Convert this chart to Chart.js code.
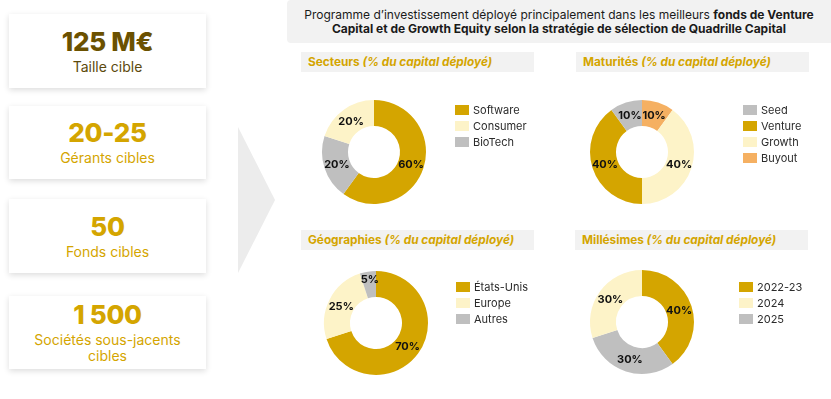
<!DOCTYPE html>
<html><head><meta charset="utf-8">
<script src="https://cdn.jsdelivr.net/npm/chart.js@4"></script>
<style>
html,body{margin:0;padding:0;}
body{width:831px;height:399px;background:#fff;position:relative;overflow:hidden;font-family:Inter,'Open Sans',sans-serif;}
.card{position:absolute;left:9px;width:197px;background:#fff;box-shadow:0 2px 6px rgba(0,0,0,0.14);}
.t{position:absolute;left:9px;width:197px;text-align:center;white-space:nowrap;}
.big{font-weight:800;font-size:26px;line-height:30px;color:#D4A500;letter-spacing:-0.3px;}
.lab{font-weight:400;font-size:14px;line-height:16px;color:#D4A500;}
.header{position:absolute;left:287px;top:0;width:560px;height:43px;background:#f2f2f2;border-radius:4px;}
.htxt{position:absolute;left:287px;width:544px;text-align:center;font-size:12px;line-height:14px;color:#1a1a1a;white-space:nowrap;}
.sub{position:absolute;width:233px;height:20px;background:#f2f2f2;}
.subt{position:absolute;font-size:11.8px;line-height:20px;font-weight:700;color:#D4A500;white-space:nowrap;}
.arrow{position:absolute;left:238px;top:127px;width:37px;height:146px;background:#ececec;clip-path:polygon(0 0,100% 50%,0 100%);}
canvas{position:absolute;}
</style></head>
<body>
<div class="card" style="top:14px;height:74px"></div>
<div class="card" style="top:106px;height:73px"></div>
<div class="card" style="top:199px;height:74px"></div>
<div class="card" style="top:296px;height:73px"></div>
<div class="t big" style="top:27px;color:#6B5100">125 M€</div>
<div class="t lab" style="top:59px;color:#5C4A0C">Taille cible</div>
<div class="t big" style="top:118px">20-25</div>
<div class="t lab" style="top:150px">Gérants cibles</div>
<div class="t big" style="top:212px">50</div>
<div class="t lab" style="top:244px">Fonds cibles</div>
<div class="t big" style="top:300px">1 500</div>
<div class="t lab" style="top:332px">Sociétés sous-jacents</div>
<div class="t lab" style="top:348px">cibles</div>
<div class="arrow"></div>
<div class="header"></div>
<div class="htxt" style="top:8px">Programme d’investissement déployé principalement dans les meilleurs <b>fonds de Venture</b></div>
<div class="htxt" style="top:22px"><b>Capital et de Growth Equity selon la stratégie de sélection de Quadrille Capital</b></div>
<div class="sub" style="left:301px;top:52px"></div>
<div class="subt" style="left:308px;top:52px">Secteurs <i>(% du capital déployé)</i></div>
<div class="sub" style="left:576px;top:52px"></div>
<div class="subt" style="left:583px;top:52px">Maturités <i>(% du capital déployé)</i></div>
<div class="sub" style="left:301px;top:230px"></div>
<div class="subt" style="left:308px;top:230px">Géographies <i>(% du capital déployé)</i></div>
<div class="sub" style="left:575px;top:230px"></div>
<div class="subt" style="left:582px;top:230px">Millésimes <i>(% du capital déployé)</i></div>

<canvas id="c1" width="250" height="140"></canvas>
<canvas id="c2" width="250" height="140"></canvas>
<canvas id="c3" width="250" height="140"></canvas>
<canvas id="c4" width="250" height="140"></canvas>

<script>
// ---- Data (slices listed clockwise from the top) ----
const GOLD = '#D4A500', CREAM = '#FDF3C8', GRAY = '#BFBFBF', ORANGE = '#F5B062';

const secteursLabels = ['Software', 'BioTech', 'Consumer'];
const secteursValues = [60, 20, 20];
const secteursColors = [GOLD, GRAY, CREAM];
const secteursLegend = ['Software', 'Consumer', 'BioTech'];

const maturitesLabels = ['Buyout', 'Growth', 'Venture', 'Seed'];
const maturitesValues = [10, 40, 40, 10];
const maturitesColors = [ORANGE, CREAM, GOLD, GRAY];
const maturitesLegend = ['Seed', 'Venture', 'Growth', 'Buyout'];

const geoLabels = ['États-Unis', 'Europe', 'Autres'];
const geoValues = [70, 25, 5];
const geoColors = [GOLD, CREAM, GRAY];
const geoLegend = ['États-Unis', 'Europe', 'Autres'];

const millesimesLabels = ['2022-23', '2025', '2024'];
const millesimesValues = [40, 30, 30];
const millesimesColors = [GOLD, GRAY, CREAM];
const millesimesLegend = ['2022-23', '2024', '2025'];

const FONT = 'Inter, "Open Sans", sans-serif';

const pctLabels = {
  id: 'pctLabels',
  afterDatasetsDraw(chart) {
    const ctx = chart.ctx, ds = chart.data.datasets[0], meta = chart.getDatasetMeta(0);
    ctx.save();
    ctx.font = '700 11px ' + FONT;
    ctx.fillStyle = '#111';
    ctx.textAlign = 'center';
    ctx.textBaseline = 'middle';
    meta.data.forEach((arc, i) => {
      const p = arc.tooltipPosition();
      // very thin slices: lift the label toward the outer edge so it stays readable
      const lift = ds.data[i] < 8 ? -6 : 0;
      ctx.fillText(ds.data[i] + '%', p.x, p.y + 1 + lift);
    });
    ctx.restore();
  }
};

const sideLegend = {
  id: 'sideLegend',
  afterDraw(chart, args, opts) {
    const ctx = chart.ctx, ds = chart.data.datasets[0], arc0 = chart.getDatasetMeta(0).data[0];
    const cx = arc0.x, cy = arc0.y;
    ctx.save();
    ctx.font = '400 11px ' + FONT;
    ctx.textBaseline = 'middle';
    ctx.textAlign = 'left';
    opts.order.forEach((name, k) => {
      const idx = chart.data.labels.indexOf(name);
      const x = cx + opts.dx, y = cy + opts.dy + k * 16;
      ctx.fillStyle = ds.backgroundColor[idx];
      ctx.fillRect(x, y - 5, 14, 10);
      ctx.fillStyle = '#2b2b2b';
      ctx.fillText(name, x + 18, y + 0.5);
    });
    ctx.restore();
  }
};

function donut(id, cx, cy, labels, values, colors, order, dx, dy) {
  const cv = document.getElementById(id);
  cv.style.left = (cx - 70) + 'px';
  cv.style.top = (cy - 70) + 'px';
  new Chart(cv, {
    type: 'doughnut',
    data: { labels: labels, datasets: [{ data: values, backgroundColor: colors, borderWidth: 0 }] },
    options: {
      responsive: false, animation: false, devicePixelRatio: 1,
      radius: 52, cutout: '50%',
      layout: { padding: { left: 0, top: 0, right: 110, bottom: 0 } },
      plugins: { legend: { display: false }, tooltip: { enabled: false },
                 sideLegend: { order: order, dx: dx, dy: dy } }
    },
    plugins: [pctLabels, sideLegend]
  });
}

donut('c1', 374, 152, secteursLabels, secteursValues, secteursColors, secteursLegend, 81, -42);
donut('c2', 642, 152, maturitesLabels, maturitesValues, maturitesColors, maturitesLegend, 101, -42);
donut('c3', 376, 323, geoLabels, geoValues, geoColors, geoLegend, 80, -36);
donut('c4', 642, 322, millesimesLabels, millesimesValues, millesimesColors, millesimesLegend, 97, -35);
</script>
</body></html>
